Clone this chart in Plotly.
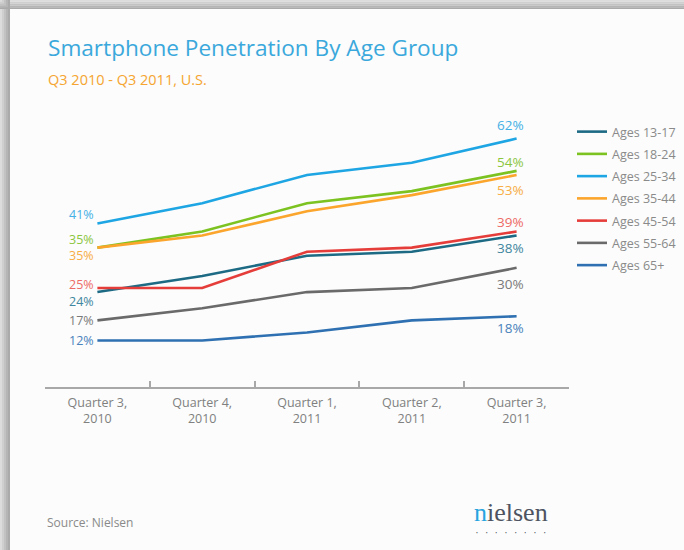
import plotly.graph_objects as go

quarters = ["Quarter 3,<br>2010", "Quarter 4,<br>2010", "Quarter 1,<br>2011",
            "Quarter 2,<br>2011", "Quarter 3,<br>2011"]
groups = ["Ages 13-17", "Ages 18-24", "Ages 25-34", "Ages 35-44",
          "Ages 45-54", "Ages 55-64", "Ages 65+"]

ages_13_17 = [24, 28, 33, 34, 38]
ages_18_24 = [35, 39, 46, 49, 54]
ages_25_34 = [41, 46, 53, 56, 62]
ages_35_44 = [35, 38, 44, 48, 53]
ages_45_54 = [25, 25, 34, 35, 39]
ages_55_64 = [17, 20, 24, 25, 30]
ages_65_up = [12, 12, 14, 17, 18]
series = [ages_13_17, ages_18_24, ages_25_34, ages_35_44, ages_45_54, ages_55_64, ages_65_up]

line_colors = ["#1d6a85", "#7cc220", "#1ea5e3", "#fba52c", "#e53d3a", "#6a6a6a", "#2e70b1"]
text_colors = ["#3f86a0", "#8cc63f", "#45b0e6", "#f8ad45", "#ee6a66", "#7a7a7a", "#4a82bb"]
# vertical nudges (px) for the start / end value labels so they don't collide
start_shift = [-9, 8, 9, -8, 4, 0, 0]
end_shift = [-12, 9, 14, -15, 9, -16, -12]

# plot area in pixels
L, R, T, B = 45, 569, 120, 387
W, H = 684, 550


def px(x):
    return (x - L) / (R - L)


def py(y):
    return (B - y) / (B - T)


fig = go.Figure()
for i, name in enumerate(groups):
    fig.add_trace(go.Scatter(
        x=quarters, y=series[i], mode="lines", name=name,
        legendgroup=name, line=dict(color=line_colors[i], width=2.6)))

annotations = []
for i, vals in enumerate(series):
    annotations.append(dict(x=quarters[0], y=vals[0], text=f"{vals[0]}%", showarrow=False,
                            xanchor="right", xshift=-1, yshift=start_shift[i],
                            font=dict(size=12.5, color=text_colors[i])))
    annotations.append(dict(x=quarters[-1], y=vals[-1], text=f"{vals[-1]}%", showarrow=False,
                            xanchor="right", xshift=9, yshift=end_shift[i],
                            font=dict(size=13.5, color=text_colors[i])))

annotations += [
    dict(xref="paper", yref="paper", x=px(46), y=py(47), xanchor="left", yanchor="middle",
         text="Smartphone Penetration By Age Group", showarrow=False,
         font=dict(size=22.6, color="#3aa8dc")),
    dict(xref="paper", yref="paper", x=px(46), y=py(79), xanchor="left", yanchor="middle",
         text="Q3 2010 - Q3 2011, U.S.", showarrow=False,
         font=dict(size=14.5, color="#f6a531")),
    dict(xref="paper", yref="paper", x=px(45), y=py(522), xanchor="left", yanchor="middle",
         text="Source: Nielsen", showarrow=False,
         font=dict(size=12, color="#8a8a8a")),
    dict(xref="paper", yref="paper", x=px(511), y=py(512), xanchor="center", yanchor="middle",
         text="<span style='color:#27a4df'>n</span>ielsen", showarrow=False,
         font=dict(size=26, color="#4d5360", family="Liberation Serif")),
    dict(xref="paper", yref="paper", x=px(511), y=py(533), xanchor="center", yanchor="middle",
         text="•      •      •      •      •      •      •      •", showarrow=False,
         font=dict(size=5, color="#4d5360")),
]

# drop shadow along the top and left edge of the card
shapes = []
shade = ["#dcdcdc", "#cfcfcf", "#c2c2c2", "#b5b5b5", "#aaaaaa"]
for k, c in enumerate(shade):
    shapes.append(dict(type="rect", xref="paper", yref="paper", layer="below",
                       x0=px(0), x1=px(W), y0=py(k * 1.8), y1=py(k * 1.8 + 1.8),
                       fillcolor=c, line_width=0))
    shapes.append(dict(type="rect", xref="paper", yref="paper", layer="below",
                       x0=px(k * 2), x1=px(k * 2 + 2), y0=py(0), y1=py(H),
                       fillcolor=c, line_width=0))

fig.update_layout(
    width=W, height=H,
    margin=dict(l=L, r=W - R, t=T, b=H - B, autoexpand=False),
    paper_bgcolor="#fbfcfb", plot_bgcolor="#fbfcfb",
    font=dict(family="Open Sans", color="#808080"),
    showlegend=True,
    legend=dict(x=px(572), y=py(117), xanchor="left", yanchor="top",
                font=dict(size=12.5, color="#8a8a8a"), tracegroupgap=3,
                bgcolor="rgba(0,0,0,0)"),
    annotations=annotations,
    shapes=shapes,
)
fig.update_xaxes(type="category", range=[-0.5, 4.5], tickson="boundaries", ticks="inside",
                 ticklen=6, tickcolor="#a8a8a8", tickwidth=1.5, showline=True,
                 linecolor="#a8a8a8", linewidth=1.8, showgrid=False, zeroline=False,
                 ticklabelstandoff=3, tickfont=dict(size=12.5, color="#808080"))
fig.update_yaxes(range=[0.5, 66.6], visible=False)

# the page body has an 8px default margin; drop it so the figure sits at 0,0
fig.write_html("out.html", config={"displayModeBar": False},
               post_script="document.body.style.margin='0';")
